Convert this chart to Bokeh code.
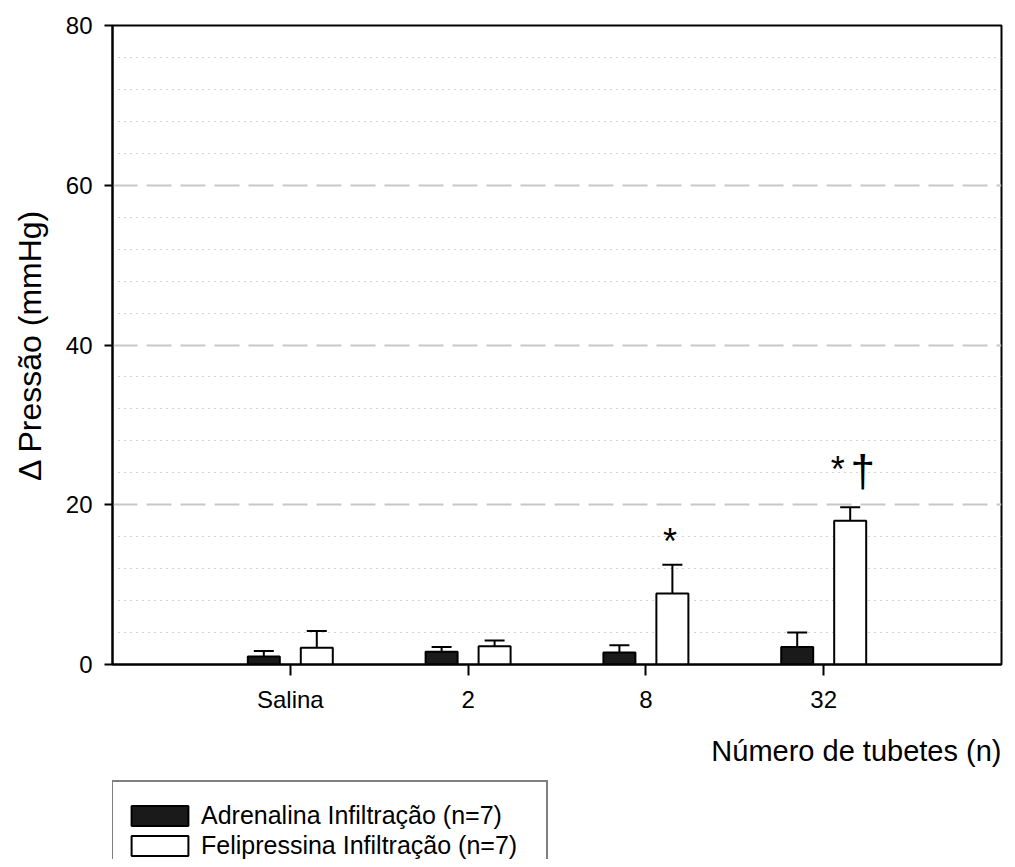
from bokeh.plotting import figure
from bokeh.layouts import column
from bokeh.models import (ColumnDataSource, FixedTicker, Grid, Range1d, Whisker, TeeHead,
                          Legend, LegendItem, Label)
from bokeh.core.properties import value, field
from bokeh.embed import file_html
from bokeh.resources import INLINE

# ---- data ----
categories = ["Salina", "2", "8", "32"]
cat_pos = [1, 2, 3, 4]
adrenalina_mean = [1.0, 1.6, 1.5, 2.2]
adrenalina_sem = [0.7, 0.6, 0.9, 1.8]
felipressina_mean = [2.1, 2.3, 8.9, 18.0]
felipressina_sem = [2.1, 0.7, 3.6, 1.7]
y_ticks = [0, 20, 40, 60, 80]
dash_grid = [20, 40, 60]
dot_grid = [4, 8, 12, 16, 24, 28, 32, 36, 44, 48, 52, 56, 64, 68, 72, 76]
sig_text = ["*", "*", "\u2020"]
sig_group = [3, 4, 4]
sig_offset = [0.135, 0.079, 0.22]
sig_y = [15.4, 24.4, 24.3]
sig_size = ["36px", "36px", "44px"]
series_labels = ["Adrenalina Infiltra\u00e7\u00e3o (n=7)", "Felipressina Infiltra\u00e7\u00e3o (n=7)"]
x_title = "N\u00famero de tubetes (n)"
y_title = "\u0394 Press\u00e3o (mmHg)"

FONT = "Liberation Sans"
OFF = 0.149
BW = 0.18
ADR_FILL = "#1a1a1a"
FEL_FILL = "white"

src = ColumnDataSource(dict(
    xa=[c - OFF for c in cat_pos],
    xf=[c + OFF for c in cat_pos],
    adr=adrenalina_mean,
    adr_hi=[m + e for m, e in zip(adrenalina_mean, adrenalina_sem)],
    fel=felipressina_mean,
    fel_hi=[m + e for m, e in zip(felipressina_mean, felipressina_sem)],
))

p = figure(width=1007, height=735, output_backend="svg", toolbar_location=None,
           x_range=Range1d(0, 5), y_range=Range1d(0, 80),
           min_border_left=112, min_border_right=6, min_border_top=25, min_border_bottom=71)
p.background_fill_color = "white"
p.border_fill_color = "white"
p.outline_line_color = "black"
p.outline_line_width = 2

# grids
p.xgrid.visible = False
p.ygrid.visible = False
g_dot = Grid(dimension=1, ticker=FixedTicker(ticks=dot_grid), grid_line_color="#a8a8a8",
             grid_line_width=1, grid_line_dash="1 5")
g_dash = Grid(dimension=1, ticker=FixedTicker(ticks=dash_grid), grid_line_color="#c8c8c8",
              grid_line_width=2, grid_line_dash="25 9")
p.add_layout(g_dot)
p.add_layout(g_dash)

# bars
p.vbar(x="xa", top="adr", bottom=0, width=BW, source=src,
       fill_color=ADR_FILL, line_color="black", line_width=2)
p.vbar(x="xf", top="fel", bottom=0, width=BW, source=src,
       fill_color=FEL_FILL, line_color="black", line_width=2)

for base, lo, hi in (("xa", "adr", "adr_hi"), ("xf", "fel", "fel_hi")):
    w = Whisker(source=src, base=base, lower=lo, upper=hi, line_color="black", line_width=2,
                upper_head=TeeHead(size=20, line_color="black", line_width=2), lower_head=None,
                level="glyph")
    p.add_layout(w)

# significance marks
sig_src = ColumnDataSource(dict(
    x=[g + o for g, o in zip(sig_group, sig_offset)], y=sig_y, t=sig_text, sz=sig_size))
p.text(x="x", y="y", text="t", source=sig_src, text_align="center", text_baseline="alphabetic",
       text_font=value(FONT), text_font_size=field("sz"), text_color="black")

# axes
p.xaxis.ticker = FixedTicker(ticks=cat_pos)
p.xaxis.major_label_overrides = {c: l for c, l in zip(cat_pos, categories)}
p.yaxis.ticker = FixedTicker(ticks=y_ticks)
for ax in (p.xaxis[0], p.yaxis[0]):
    ax.axis_line_color = "black"
    ax.axis_line_width = 2
    ax.major_tick_line_color = "black"
    ax.major_tick_line_width = 2
    ax.major_tick_in = 0
    ax.minor_tick_line_color = None
    ax.major_label_text_font = FONT
    ax.major_label_text_font_size = "24px"
    ax.major_label_text_color = "black"
p.xaxis.major_tick_out = 11
p.yaxis.major_tick_out = 8
p.xaxis.major_label_standoff = 10
p.yaxis.major_label_standoff = 12
p.yaxis.axis_label = y_title
p.yaxis.axis_label_text_font = FONT
p.yaxis.axis_label_text_font_size = "32px"
p.yaxis.axis_label_text_font_style = "normal"
p.yaxis.axis_label_text_color = "black"
p.yaxis.axis_label_standoff = 15

# ---- strip below the chart: x title + legend ----
lg = figure(width=1007, height=124, output_backend="svg", toolbar_location=None,
            x_range=Range1d(0, 10), y_range=Range1d(0, 124),
            x_axis_location=None, y_axis_location=None,
            min_border_left=0, min_border_right=0, min_border_top=0, min_border_bottom=0)
lg.outline_line_color = None
lg.xgrid.visible = False
lg.ygrid.visible = False
lg.background_fill_color = "white"
lg.border_fill_color = "white"
# legend keys: same series, drawn underneath the opaque legend box
k_adr = lg.vbar(x="xa", top="adr", bottom=0, width=BW, source=src,
                fill_color=ADR_FILL, line_color="black", line_width=2)
k_fel = lg.vbar(x="xf", top="fel", bottom=0, width=BW, source=src,
                fill_color=FEL_FILL, line_color="black", line_width=2)

lg.add_layout(Label(x=10, y=109, text=x_title, text_align="right", text_baseline="middle",
                    text_font=FONT, text_font_size="29px", text_color="black"))

legend = Legend(items=[
    LegendItem(label=series_labels[0], renderers=[k_adr]),
    LegendItem(label=series_labels[1], renderers=[k_fel]),
], location=(-1, -14), title=" ")
legend.title_text_font_size = "1px"
legend.title_standoff = 7
legend.label_text_font = FONT
legend.label_text_font_size = "25px"
legend.label_text_color = "black"
legend.glyph_width = 71
legend.glyph_height = 25
legend.label_height = 25
legend.label_width = 334
legend.label_standoff = 6
legend.spacing = 1
legend.padding = 11
legend.margin = 0
legend.border_line_color = "black"
legend.border_line_width = 2
legend.background_fill_color = "white"
legend.background_fill_alpha = 1
lg.add_layout(legend, "center")

layout = column(p, lg, spacing=0)
open("out.html", "w").write(file_html(layout, INLINE))
